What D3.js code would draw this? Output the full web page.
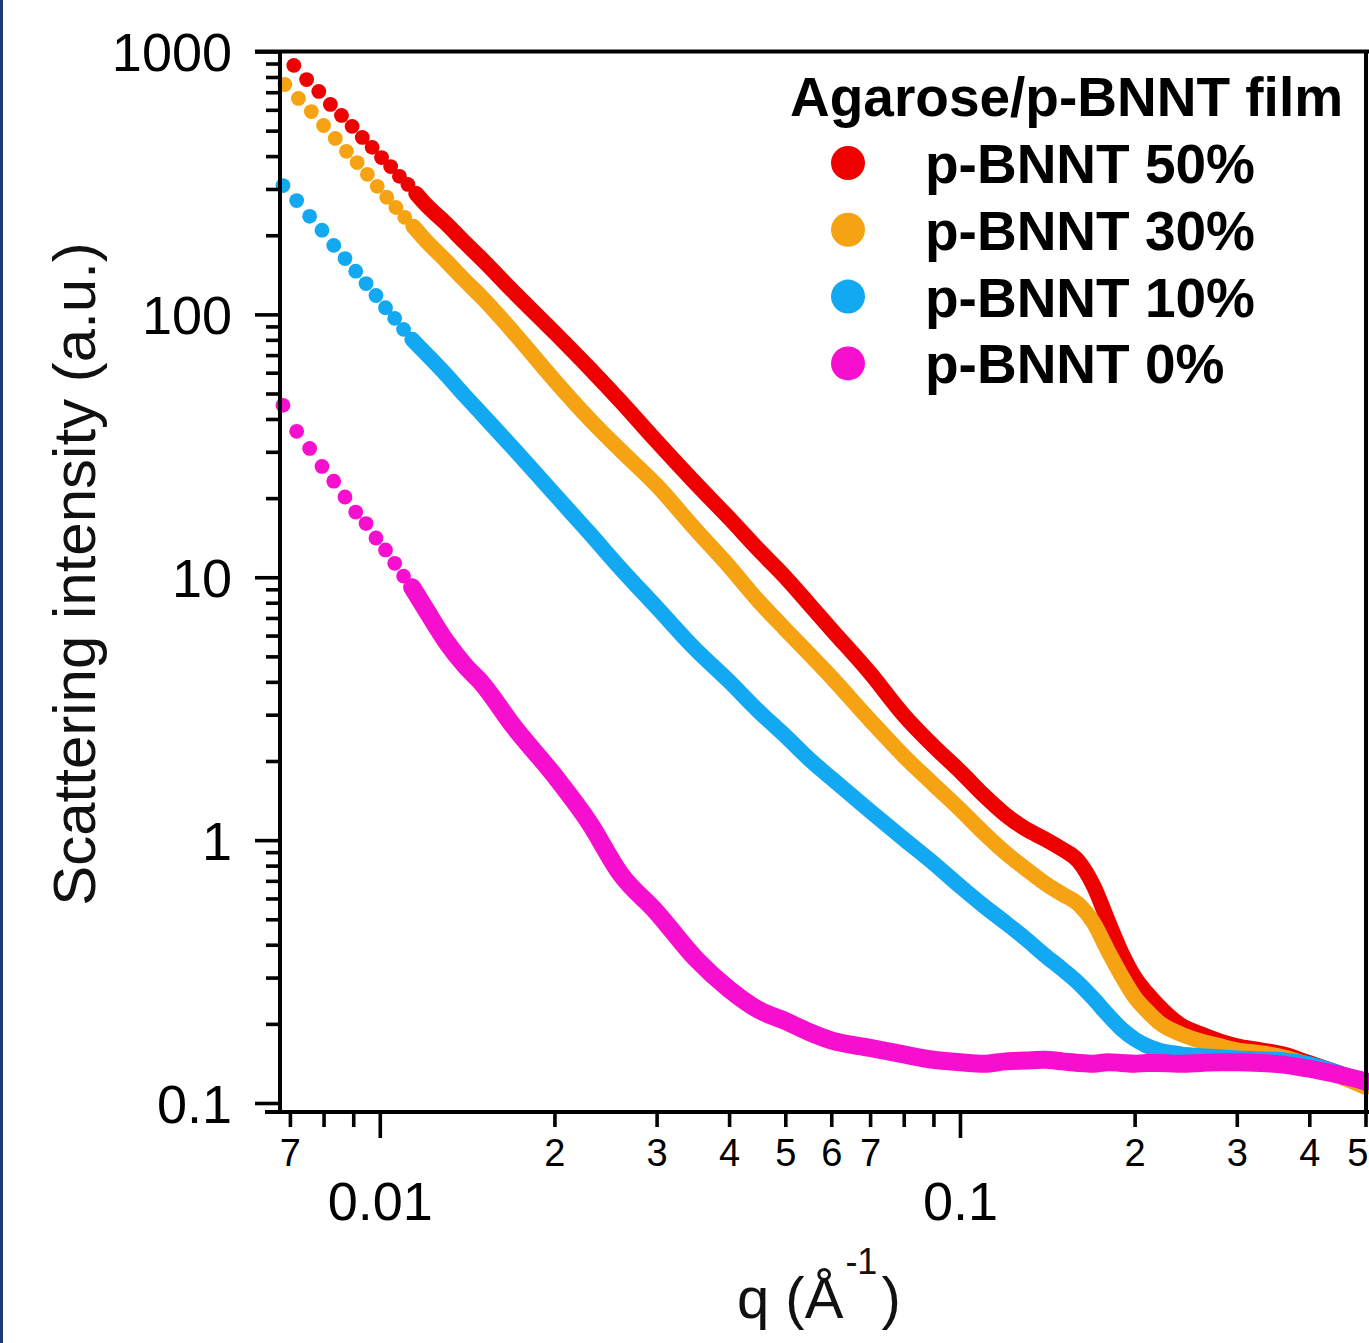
<!DOCTYPE html>
<html><head><meta charset="utf-8">
<script src="https://cdn.jsdelivr.net/npm/d3@7"></script>
<style>
body{margin:0;background:#fff;}
svg{display:block;font-family:"Liberation Sans",Arial,Helvetica,sans-serif;}
</style></head><body>
<svg id="chart" width="1369" height="1343"></svg>
<script>
// ---------- data ----------
const legendTitle = "Agarose/p-BNNT film";
const seriesLabels = ["p-BNNT 50%", "p-BNNT 30%", "p-BNNT 10%", "p-BNNT 0%"];
const seriesColors = ["#ee0000", "#f6a313", "#13a8f2", "#f60fcf"];

// shared q grid of the dense part of every curve (1/Å)
const qDense = [0.012,0.013,0.014,0.015,0.017,0.02,0.023,0.026,0.03,0.035,0.04,0.045,0.05,0.055,0.06,0.07,0.08,0.09,0.1,
  0.11,0.12,0.13,0.14,0.15,0.16,0.17,0.18,0.19,0.2,0.21,0.22,0.24,0.26,0.28,0.3,0.33,0.36,0.4,0.45,0.5];

// p-BNNT 50 %
const q50Sparse = [0.00711,0.00748,0.00785,0.00822,0.00859,0.00896,0.00933,0.0097,0.01007,0.01044,0.01081,0.01118,0.01155];
const I50Sparse = [885,782,705,629,571,519,471,432,395,365,335,312,288];
const I50Dense = [262,222,188,162,122,85.4,62.3,46.7,32.9,22.8,16.8,12.7,10.0,7.89,6.34,4.32,2.99,2.28,1.83,
  1.48,1.245,1.10,1.01,0.924,0.832,0.668,0.492,0.372,0.301,0.262,0.234,0.198,0.183,0.172,0.1647,0.159,0.1535,0.142,0.130,0.120];

// p-BNNT 30 %
const q30Sparse = [0.00686,0.00724,0.00762,0.008,0.00838,0.00876,0.00914,0.00952,0.0099,0.01028,0.01066,0.01104,0.01142];
const I30Sparse = [749,663,591,523,467,417,378,341,307,279,255,234,216];
const I30Dense = [191,160,135,116,85.5,56.1,39.9,30.4,22.4,15.2,11.0,8.10,6.34,5.10,4.17,2.86,2.09,1.63,1.31,
  1.063,0.892,0.776,0.686,0.623,0.571,0.484,0.378,0.304,0.253,0.224,0.203,0.183,0.172,0.165,0.159,0.155,0.1496,0.1395,0.1267,0.115];

// p-BNNT 10 %
const q10Sparse = [0.00681,0.00719,0.00757,0.00795,0.00833,0.00871,0.00909,0.00947,0.00985,0.01023,0.01061,0.01099,0.01137];
const I10Sparse = [309,271,236,209,183,163,146,131,118,106,96.6,87.7,80.3];
const I10Dense = [71.1,59.1,49.2,41.7,30.9,20.7,14.7,10.8,7.69,5.32,4.02,3.09,2.49,2.03,1.72,1.29,1.01,0.818,0.668,
  0.561,0.484,0.420,0.365,0.323,0.286,0.249,0.216,0.191,0.175,0.165,0.159,0.1535,0.151,0.1496,0.148,0.147,0.1457,0.1407,0.130,0.119];

// p-BNNT 0 %
const q0Sparse = [0.00681,0.00719,0.00757,0.00795,0.00833,0.00871,0.00909,0.00947,0.00985,0.01023,0.01061,0.01099,0.01137];
const I0Sparse = [45.1,35.9,30.9,26.4,23.2,20.2,17.7,16.0,14.1,12.7,11.3,10.1,9.16];
const I0Dense = [7.55,5.71,4.63,3.95,2.71,1.76,1.16,0.743,0.532,0.355,0.271,0.226,0.205,0.186,0.173,0.162,0.153,0.146,0.143,
  0.141,0.144,0.145,0.146,0.144,0.142,0.141,0.143,0.142,0.141,0.142,0.142,0.141,0.142,0.143,0.143,0.142,0.140,0.135,0.128,0.121];

// axes
const yTickValues = [0.1, 1, 10, 100, 1000];
const yTickLabels = ["0.1", "1", "10", "100", "1000"];
const xMajorTicks = [0.01, 0.1];
const xMajorLabels = ["0.01", "0.1"];
const xMinorTicks = [0.007,0.008,0.009,0.02,0.03,0.04,0.05,0.06,0.07,0.08,0.09,0.2,0.3,0.4,0.5];
const xMinorLabels = ["7","","","2","3","4","5","6","7","","","2","3","4","5"];

// ---------- build ----------
const series = [
  {q: q50Sparse, I: I50Sparse, Id: I50Dense},
  {q: q30Sparse, I: I30Sparse, Id: I30Dense},
  {q: q10Sparse, I: I10Sparse, Id: I10Dense},
  {q: q0Sparse,  I: I0Sparse,  Id: I0Dense}
].map((s, i) => {
  const sparse = s.q.map((q, j) => [q, s.I[j]]);
  const dense = qDense.map((q, j) => [q, s.Id[j]]);
  return {label: seriesLabels[i], color: seriesColors[i], sparse, dense};
});

const svg = d3.select("#chart");
const axisY0 = 1112;   // x axis line (offset below plot)
const axisX0 = 280;    // y axis line

const x = d3.scaleLog().domain([0.00673, 0.5]).range([280, 1365.5]);
const y = d3.scaleLog().domain([0.1, 1000]).range([1103, 51.5]);

// left navy strip of the original figure
svg.append("rect").attr("x", 0).attr("y", 0).attr("width", 3).attr("height", 1343).attr("fill", "#1c3774");

// data
const gData = svg.append("g");
const line = d3.line().x(d => x(d[0])).y(d => y(d[1])).curve(d3.curveMonotoneX);
series.forEach((s, i) => {
  const g = gData.append("g");
  const lw = i === 3 ? 18 : 15.5;
  g.append("path")
    .datum([s.sparse[s.sparse.length - 1]].concat(s.dense))
    .attr("d", line)
    .attr("fill", "none").attr("stroke", s.color)
    .attr("stroke-width", lw).attr("stroke-linecap", "round").attr("stroke-linejoin", "round");
  g.selectAll("circle").data(s.sparse).join("circle")
    .attr("cx", d => x(d[0])).attr("cy", d => y(d[1])).attr("r", 7.4)
    .attr("fill", s.color);
});

// frame
const frame = svg.append("g").attr("stroke", "#000").attr("stroke-width", 4);
frame.append("line").attr("x1", 255).attr("x2", 1369).attr("y1", y(1000)).attr("y2", y(1000));
frame.append("line").attr("x1", axisX0).attr("x2", axisX0).attr("y1", y(1000)).attr("y2", axisY0 + 2);
frame.append("line").attr("x1", 265).attr("x2", 1369).attr("y1", axisY0).attr("y2", axisY0);
frame.append("line").attr("x1", 1366).attr("x2", 1366).attr("y1", y(1000)).attr("y2", axisY0);

// y axis
const yMinor = y.ticks().filter(v => !yTickValues.includes(v));
const gyMinor = svg.append("g").attr("transform", `translate(${axisX0},0)`)
  .call(d3.axisLeft(y).tickValues(yMinor).tickSize(14).tickSizeOuter(0).tickFormat(""));
const gyMajor = svg.append("g").attr("transform", `translate(${axisX0},0)`)
  .call(d3.axisLeft(y).tickValues(yTickValues).tickSize(25).tickSizeOuter(0).tickPadding(23)
    .tickFormat((d, i) => yTickLabels[i]));
[gyMinor, gyMajor].forEach(g => {
  g.select(".domain").remove();
  g.selectAll(".tick line").attr("stroke", "#000").attr("stroke-width", 3.6);
});
gyMajor.selectAll(".tick text").attr("font-size", 54).attr("fill", "#000").attr("dy", "0.36em");

// x axis
const gxMinor = svg.append("g").attr("transform", `translate(0,${axisY0})`)
  .call(d3.axisBottom(x).tickValues(xMinorTicks).tickSize(15).tickSizeOuter(0)
    .tickFormat((d, i) => xMinorLabels[i]));
const gxMajor = svg.append("g").attr("transform", `translate(0,${axisY0})`)
  .call(d3.axisBottom(x).tickValues(xMajorTicks).tickSize(26).tickSizeOuter(0)
    .tickFormat((d, i) => xMajorLabels[i]));
[gxMinor, gxMajor].forEach(g => {
  g.select(".domain").remove();
  g.selectAll(".tick line").attr("stroke", "#000").attr("stroke-width", 3.6);
});
gxMinor.selectAll(".tick text").attr("font-size", 38).attr("fill", "#000").attr("dy", null).attr("y", 54);
// last label sits at the figure's right edge: keep it inside the canvas
gxMinor.selectAll(".tick text").filter((d, i) => i === xMinorTicks.length - 1)
  .attr("text-anchor", "end").attr("x", 1368 - x(0.5));
gxMajor.selectAll(".tick text").attr("font-size", 54).attr("fill", "#000").attr("dy", null).attr("y", 108);

// axis titles
svg.append("text")
  .attr("transform", "translate(95,574) rotate(-90)")
  .attr("text-anchor", "middle").attr("font-size", 60).attr("fill", "#111")
  .text("Scattering intensity (a.u.)");

const xt = svg.append("text").attr("x", 737).attr("y", 1318).attr("font-size", 58).attr("fill", "#111");
xt.append("tspan").text("q (Å");
xt.append("tspan").attr("font-size", 36).attr("dy", -44).attr("dx", 2).text("-1");
xt.append("tspan").attr("dy", 44).attr("dx", 4).text(")");

// legend
const lg = svg.append("g");
lg.append("text").attr("x", 790).attr("y", 116).attr("font-size", 55).attr("font-weight", "bold")
  .attr("fill", "#000").text(legendTitle);
const items = lg.selectAll("g.item").data(series).join("g").attr("class", "item")
  .attr("transform", (d, i) => `translate(0,${163 + i * 66.8})`);
items.append("circle").attr("cx", 848).attr("cy", 0).attr("r", 17).attr("fill", d => d.color);
items.append("text").attr("x", 925).attr("y", 20).attr("font-size", 55).attr("font-weight", "bold")
  .attr("fill", "#000").text(d => d.label);
</script>
</body></html>
